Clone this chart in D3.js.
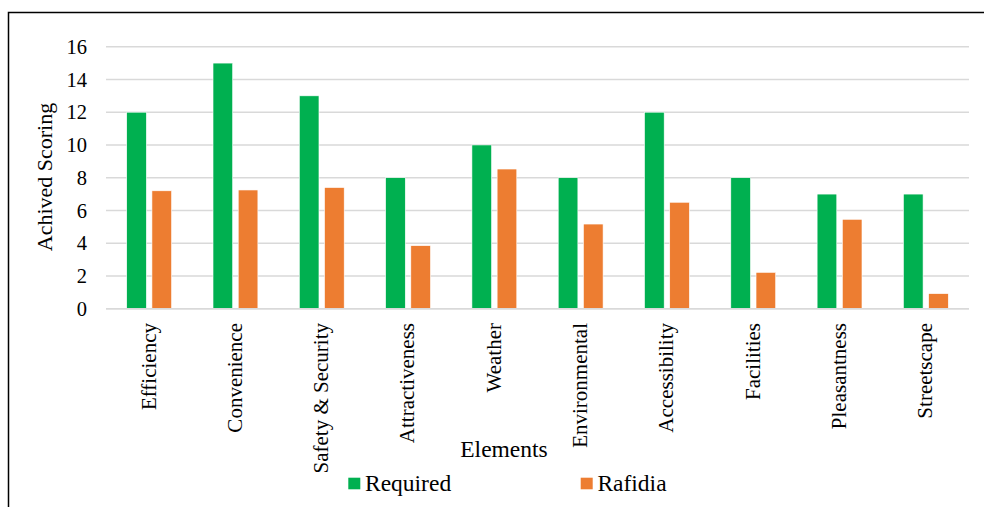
<!DOCTYPE html>
<html><head><meta charset="utf-8">
<script src="https://cdn.jsdelivr.net/npm/d3@7"></script>
<style>body{margin:0;background:#fff}svg{display:block}text{font-family:"Liberation Serif","Times New Roman",serif;fill:#000}</style>
</head><body><svg id="c" width="984" height="507"></svg>
<script>
const categories = ["Efficiency","Convenience","Safety & Security","Attractiveness","Weather","Environmental","Accessibility","Facilities","Pleasantness","Streetscape"];
const series = ["Required","Rafidia"];
const required = [12,15,13,8,10,8,12,8,7,7];
const rafidia = [7.2,7.25,7.4,3.85,8.53,5.17,6.5,2.22,5.46,0.92];
const yTicks = [0,2,4,6,8,10,12,14,16];
const colors = {"Required":"#00B050","Rafidia":"#ED7D31"};

const svg = d3.select("#c");
// border (top + left)
svg.append("path").attr("d","M8.5,507 V12.5 H984").attr("fill","none").attr("stroke","#000").attr("stroke-width",1.5);

const x0 = d3.scaleBand().domain(categories).range([106,969]).padding(0);
const bw = x0.bandwidth();
const x1 = d3.scaleBand().domain(series).range([0.24*bw,0.76*bw]).paddingInner(0.22);
const y = d3.scaleLinear().domain([0,16]).range([308.7,46.7]);

// gridlines
svg.append("g").selectAll("line").data(yTicks).join("line")
  .attr("x1",106).attr("x2",969).attr("y1",d=>y(d)).attr("y2",d=>y(d))
  .attr("stroke","#d9d9d9").attr("stroke-width",1.5);

// y tick labels
svg.append("g").selectAll("text").data(yTicks).join("text")
  .attr("x",87).attr("y",d=>y(d)).attr("dy","0.35em").attr("text-anchor","end")
  .style("font-size","20.5px").text(d=>d);

const data = categories.map((c,i)=>({cat:c, vals:[{s:"Required",v:required[i]},{s:"Rafidia",v:rafidia[i]}]}));
const g = svg.append("g");
g.selectAll("g").data(data).join("g").attr("transform",d=>`translate(${x0(d.cat)},0)`)
  .selectAll("rect").data(d=>d.vals).join("rect")
  .attr("x",d=>x1(d.s)).attr("width",x1.bandwidth())
  .attr("y",d=>y(d.v)).attr("height",d=>y(0)-y(d.v))
  .attr("fill",d=>colors[d.s]).attr("stroke","#fff").attr("stroke-width",0.6);

// baseline
svg.append("line").attr("x1",106).attr("x2",969).attr("y1",y(0)).attr("y2",y(0)).attr("stroke","#d9d9d9").attr("stroke-width",1.5);

// category labels
svg.append("g").selectAll("text").data(categories).join("text")
  .attr("transform",d=>`translate(${x0(d)+bw/2-1},323) rotate(-90)`)
  .attr("dy","0.35em").attr("text-anchor","end").style("font-size","21px").text(d=>d);

// axis titles
svg.append("text").attr("x",504).attr("y",457).attr("text-anchor","middle").style("font-size","23.5px").text("Elements");
svg.append("text").attr("transform","translate(52,177) rotate(-90)").attr("text-anchor","middle").style("font-size","22px").text("Achived Scoring");

// legend
const legX = {"Required":348.3,"Rafidia":580.7};
const lg = svg.append("g").selectAll("g").data(series).join("g").attr("transform",d=>`translate(${legX[d]},0)`);
lg.append("rect").attr("x",0).attr("y",477.7).attr("width",12).attr("height",11.6).attr("fill",d=>colors[d]);
lg.append("text").attr("x",16.7).attr("y",491).style("font-size","23.5px").text(d=>d);
</script></body></html>
